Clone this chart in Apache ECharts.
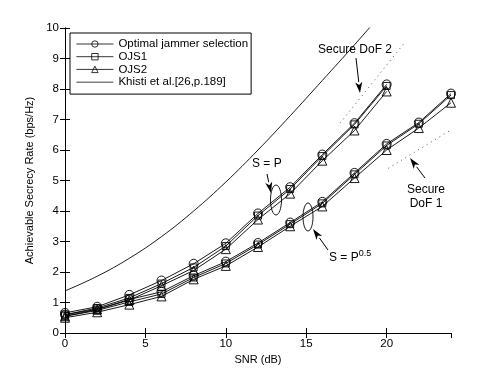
<!DOCTYPE html>
<html>
<head>
<meta charset="utf-8">
<script src="https://cdn.jsdelivr.net/npm/echarts@6/dist/echarts.min.js"></script>
<style>
html, body { margin: 0; padding: 0; background: #fff; }
#chart { width: 498px; height: 375px; }
</style>
</head>
<body>
<div id="chart"></div>
<script>
var black = '#000';
var font = 'Liberation Sans, Arial, Helvetica, sans-serif';

// SNR (dB) points
var snrHigh = [0, 2, 4, 6, 8, 10, 12, 14, 16, 18, 20];
var snrLow = [0, 2, 4, 6, 8, 10, 12, 14, 16, 18, 20, 22, 24];

// S = P
var optHigh = [0.66, 0.86, 1.25, 1.72, 2.27, 2.94, 3.92, 4.78, 5.85, 6.88, 8.15];
var ojs1High = [0.60, 0.82, 1.15, 1.62, 2.15, 2.85, 3.85, 4.72, 5.80, 6.84, 8.10];
var ojs2High = [0.55, 0.77, 1.08, 1.55, 2.05, 2.75, 3.72, 4.57, 5.65, 6.64, 7.92];

// S = P^0.5
var optLow = [0.60, 0.78, 1.10, 1.35, 1.88, 2.34, 2.95, 3.62, 4.30, 5.25, 6.20, 6.90, 7.85];
var ojs1Low = [0.55, 0.74, 1.02, 1.28, 1.82, 2.28, 2.90, 3.57, 4.25, 5.20, 6.15, 6.86, 7.80];
var ojs2Low = [0.50, 0.68, 0.93, 1.20, 1.76, 2.20, 2.82, 3.50, 4.15, 5.08, 6.00, 6.72, 7.55];

// Khisti et al. upper bound
var khistiX = [0, 2, 4, 6, 8, 10, 12, 14, 16, 18, 20];
var khistiY = [1.38, 1.86, 2.45, 3.16, 4.00, 4.95, 6.00, 7.12, 8.28, 9.45, 10.65];

// secure DoF guide lines
var dof2X = [17.1, 21.1];
var dof2Y = [6.88, 9.51];
var dof1X = [20.1, 24.0];
var dof1Y = [5.40, 6.66];

var xTicks = [0, 5, 10, 15, 20];

function pairs(xs, ys) {
	var out = [];
	for(var i = 0; i < xs.length; i++) {
		out.push([xs[i], ys[i]]);
	}
	return out;
}

function markerSeries(name, symbol, size, xs, ys) {
	return {
		name: name,
		type: 'line',
		symbol: symbol,
		symbolSize: size,
		showAllSymbol: true,
		lineStyle: { color: black, width: 0.9 },
		itemStyle: { color: 'rgba(255,255,255,0)', borderColor: black, borderWidth: 0.9 },
		emphasis: { disabled: true },
		data: pairs(xs, ys)
	};
}

function guideSeries(xs, ys) {
	return {
		type: 'line',
		symbol: 'none',
		silent: true,
		lineStyle: { color: '#555', width: 1, type: [1, 4] },
		data: pairs(xs, ys)
	};
}

// arrow with filled head, for annotations
function arrow(x1, y1, x2, y2) {
	var dx = x2 - x1, dy = y2 - y1;
	var len = Math.sqrt(dx * dx + dy * dy);
	var ux = dx / len, uy = dy / len;
	var hl = 11, hw = 3.5;
	var bx = x2 - ux * hl, by = y2 - uy * hl;
	return [{
		type: 'line',
		shape: { x1: x1, y1: y1, x2: bx, y2: by },
		style: { stroke: black, lineWidth: 1 }
	}, {
		type: 'polygon',
		shape: { points: [[x2, y2], [bx - uy * hw, by + ux * hw], [bx + ux * 3, by + uy * 3], [bx + uy * hw, by - ux * hw]] },
		style: { fill: black }
	}];
}

var graphics = [
	{ type: 'text', left: 318, top: 44, style: { text: 'Secure DoF 2', fill: black, font: '12px ' + font } },
	{ type: 'text', left: 252, top: 158, style: { text: 'S = P', fill: black, font: '12px ' + font } },
	{ type: 'text', left: 329, top: 249, style: {
		text: 'S = P{sup|0.5}', fill: black, font: '12px ' + font,
		rich: { sup: { fontSize: 9, fontFamily: font, verticalAlign: 'top', padding: [0, 0, 8, 0] } }
	} },
	{ type: 'text', x: 426, y: 183, style: { text: 'Secure\nDoF 1', fill: black, font: '12px ' + font, align: 'center', lineHeight: 14 } },
	{ type: 'ellipse', shape: { cx: 276, cy: 200, rx: 5.5, ry: 15 }, style: { fill: 'none', stroke: black, lineWidth: 0.9 } },
	{ type: 'ellipse', shape: { cx: 308, cy: 217, rx: 5, ry: 14 }, style: { fill: 'none', stroke: black, lineWidth: 0.9 } }
];
graphics = graphics.concat(arrow(356, 58, 360, 93));
graphics = graphics.concat(arrow(267, 174, 271, 193));
graphics = graphics.concat(arrow(328, 250, 313, 229));
graphics = graphics.concat(arrow(425, 178, 410, 158));

var axisCommon = {
	axisLine: { lineStyle: { color: black, width: 1 } },
	axisTick: { inside: true, length: 5, lineStyle: { color: black } },
	splitLine: { show: false }
};

var option = {
	animation: false,
	backgroundColor: '#fff',
	textStyle: { fontFamily: font },
	grid: { left: 65, right: 47, top: 28, bottom: 42 },
	legend: {
		orient: 'vertical',
		left: 70,
		top: 33,
		padding: [5, 3, 6, 6],
		itemWidth: 37,
		itemHeight: 8,
		itemGap: 0.7,
		borderColor: black,
		borderWidth: 1,
		borderRadius: 0,
		backgroundColor: '#fff',
		lineStyle: { width: 0.8 },
		itemStyle: { borderWidth: 0.8 },
		textStyle: { color: black, fontSize: 11.5, lineHeight: 12, fontFamily: font },
		data: [
			'Optimal jammer selection',
			'OJS1',
			'OJS2',
			{ name: 'Khisti et al.[26,p.189]', icon: 'path://M0,0H40V1H0Z' }
		]
	},
	xAxis: [Object.assign({
		type: 'value',
		min: 0,
		max: 24,
		interval: 5,
		name: 'SNR (dB)',
		nameLocation: 'middle',
		nameGap: 14,
		nameTextStyle: { color: black, fontSize: 11, fontFamily: font },
		axisLabel: { color: black, fontSize: 11.5, margin: 5, showMaxLabel: false,
			formatter: function(v) { return xTicks.indexOf(v) >= 0 ? String(v) : ''; } }
	}, axisCommon), Object.assign({
		type: 'value',
		position: 'top',
		min: 0,
		max: 24,
		interval: 5,
		axisLabel: { show: false }
	}, axisCommon)],
	yAxis: [Object.assign({
		type: 'value',
		min: 0,
		max: 10,
		interval: 1,
		name: 'Achievable Secrecy Rate (bps/Hz)',
		nameLocation: 'middle',
		nameGap: 17,
		nameTextStyle: { color: black, fontSize: 11, fontFamily: font },
		axisLabel: { color: black, fontSize: 11.5, margin: 6 }
	}, axisCommon), Object.assign({
		type: 'value',
		position: 'right',
		min: 0,
		max: 10,
		interval: 1,
		axisLabel: { show: false }
	}, axisCommon)],
	series: [
		{
			name: 'Khisti et al.[26,p.189]',
			type: 'line',
			symbol: 'none',
			smooth: 0.4,
			clip: true,
			lineStyle: { color: black, width: 0.9 },
			itemStyle: { color: black },
			data: pairs(khistiX, khistiY)
		},
		markerSeries('Optimal jammer selection', 'circle', 9, snrHigh, optHigh),
		markerSeries('OJS1', 'rect', 7, snrHigh, ojs1High),
		markerSeries('OJS2', 'triangle', 9, snrHigh, ojs2High),
		markerSeries('Optimal jammer selection', 'circle', 9, snrLow, optLow),
		markerSeries('OJS1', 'rect', 7, snrLow, ojs1Low),
		markerSeries('OJS2', 'triangle', 9, snrLow, ojs2Low),
		guideSeries(dof2X, dof2Y),
		guideSeries(dof1X, dof1Y)
	],
	graphic: graphics
};

var chart = echarts.init(document.getElementById('chart'), null, { renderer: 'canvas' });
chart.setOption(option);
</script>
</body>
</html>
